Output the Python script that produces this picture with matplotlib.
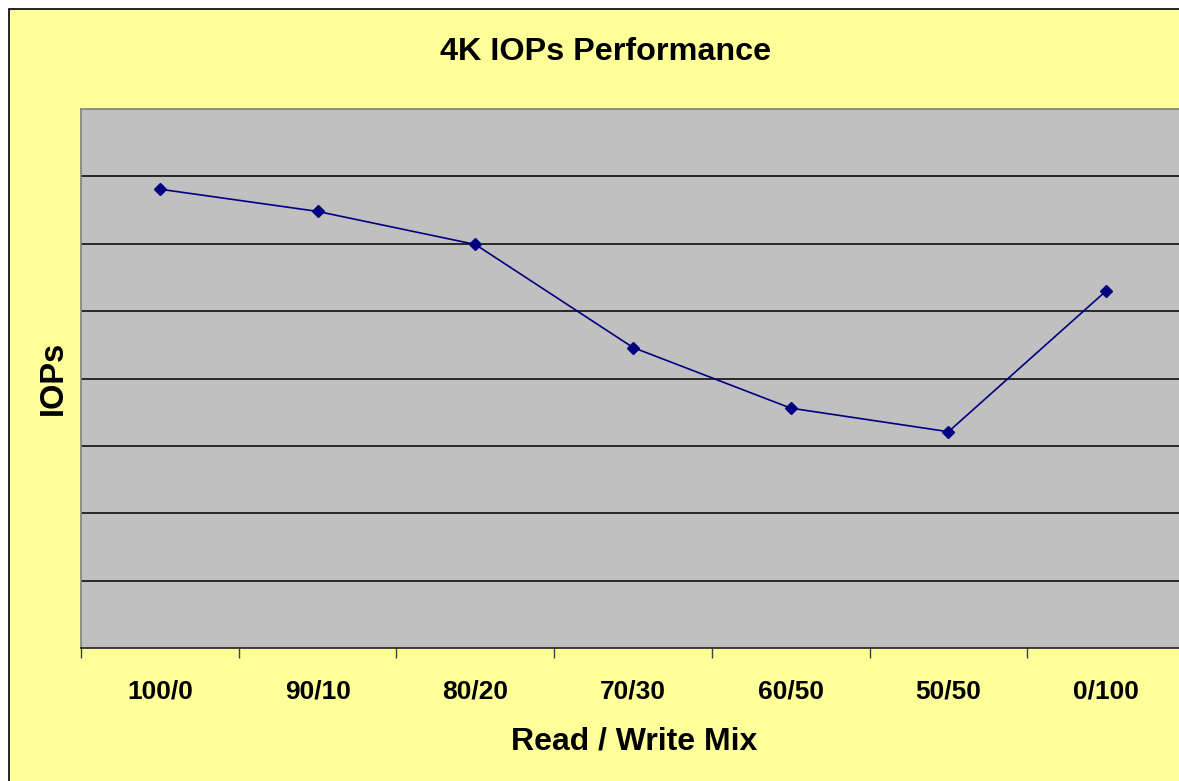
import matplotlib.pyplot as plt
from matplotlib.patches import Rectangle
import numpy as np

mixes = ['100/0', '90/10', '80/20', '70/30', '60/50', '50/50', '0/100']
iops = [6.81, 6.48, 5.99, 4.46, 3.56, 3.21, 5.30]

plt.rcParams['font.family'] = ['Liberation Sans', 'DejaVu Sans']

W, H = 1179, 781
fig = plt.figure(figsize=(W / 100, H / 100), dpi=100)
fig.patch.set_facecolor('white')

# yellow chart area with black frame (runs off the right/bottom edge)
fig.patches.append(Rectangle((9 / W, -0.05), 1.2, 1 - 9 / H + 0.05, transform=fig.transFigure,
                             facecolor='#FFFF99', edgecolor='black', linewidth=1.2, zorder=-5))

left, right, top, bottom = 81, 1185, 109, 648
ax = fig.add_axes([left / W, 1 - bottom / H, (right - left) / W, (bottom - top) / H])
ax.set_facecolor('#C0C0C0')

x = np.arange(len(mixes))
ax.plot(x, iops, color='#000080', linewidth=1.2, marker='D', markersize=6, zorder=3)

ax.set_xlim(-0.5, len(mixes) - 0.5)
ax.set_ylim(0, 8)
ax.set_yticks(np.arange(1, 8))
ax.yaxis.grid(True, color='black', linewidth=1.1)
ax.tick_params(axis='y', left=False, labelleft=False)

ax.set_xticks(np.arange(-0.5, len(mixes)), minor=False)
ax.set_xticklabels([])
ax.set_xticks(x, minor=True)
ax.set_xticklabels(mixes, minor=True, fontsize=19, fontweight='bold')
ax.tick_params(axis='x', which='major', direction='out', length=7, width=1, color='#404040')
ax.tick_params(axis='x', which='minor', length=0, pad=23)

for s in ['left', 'top', 'right']:
    ax.spines[s].set_color('#808080')
    ax.spines[s].set_linewidth(1.2)
ax.spines['bottom'].set_color('#202020')
ax.spines['bottom'].set_linewidth(1.2)

fig.text(606 / W, 1 - 52 / H, '4K IOPs Performance', ha='center', va='center',
         fontsize=23.3, fontweight='bold')
fig.text(634 / W, 1 - 742 / H, 'Read / Write Mix', ha='center', va='center',
         fontsize=23, fontweight='bold')
fig.text(53 / W, 1 - 378 / H, 'IOPs', ha='center', va='center', rotation=90,
         fontsize=23.5, fontweight='bold')

fig.savefig('out.png', dpi=100, facecolor=fig.get_facecolor())
